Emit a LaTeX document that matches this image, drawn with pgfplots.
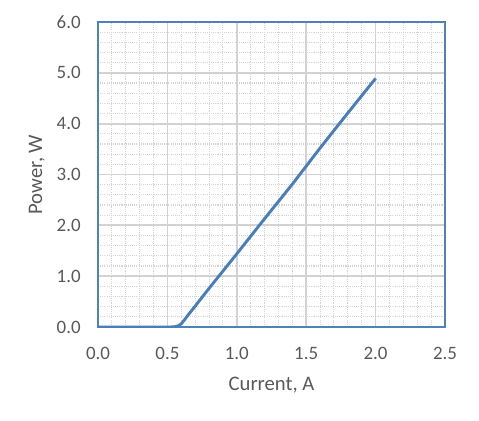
\documentclass[border=0pt]{standalone}
\usepackage{pgfplots}
\pgfplotsset{compat=1.18}
\usepackage{fontspec}
\setmainfont{Carlito}
\definecolor{txt}{RGB}{89,89,89}
\definecolor{lineblue}{RGB}{74,126,187}
\definecolor{frameblue}{RGB}{79,129,189}
\definecolor{majgrid}{RGB}{210,210,210}
\definecolor{mingrid}{RGB}{212,212,212}
\begin{document}
\begin{tikzpicture}
\begin{axis}[
  scale only axis,
  width=260.25pt, height=228.75pt,
  xmin=0, xmax=2.5, ymin=0, ymax=6,
  xtick={0,0.5,1,1.5,2,2.5}, ytick={0,1,2,3,4,5,6},
  minor x tick num=4, minor y tick num=4,
  grid=both,
  major grid style={majgrid, line width=1.3pt},
  minor grid style={mingrid, line width=0.8pt, dash pattern=on 0.8pt off 0.8pt},
  axis line style={frameblue, line width=1.6pt},
  tick style={draw=none},
  /pgf/number format/fixed,
  /pgf/number format/fixed zerofill,
  /pgf/number format/precision=1,
  /pgf/number format/assume math mode=true,
  ticklabel style={font=\fontsize{14.2pt}{16pt}\selectfont, text=txt},
  xticklabel style={yshift=-11.5pt},
  yticklabel style={xshift=-9.5pt},
  label style={font=\fontsize{15.5pt}{18pt}\selectfont, text=txt},
  xlabel={Current, A},
  ylabel={Power, W},
  xlabel style={yshift=-6pt},
  ylabel style={yshift=2pt},
]
\addplot[lineblue, line width=2.2pt, smooth, tension=0.3] coordinates {
(0,0) (0.5,0) (0.55,0.005) (0.58,0.025) (0.60,0.065) (0.62,0.13) (0.65,0.24) (0.70,0.41) (0.80,0.76) (1.0,1.44) (1.2,2.13) (1.4,2.81) (1.6,3.52) (1.8,4.21) (2.0,4.89)
};
\end{axis}
\pgfresetboundingbox
\path ([xshift=-73.5pt,yshift=-69.75pt]current axis.south west) rectangle ([xshift=25.5pt,yshift=16.5pt]current axis.north east);
\end{tikzpicture}
\end{document}
